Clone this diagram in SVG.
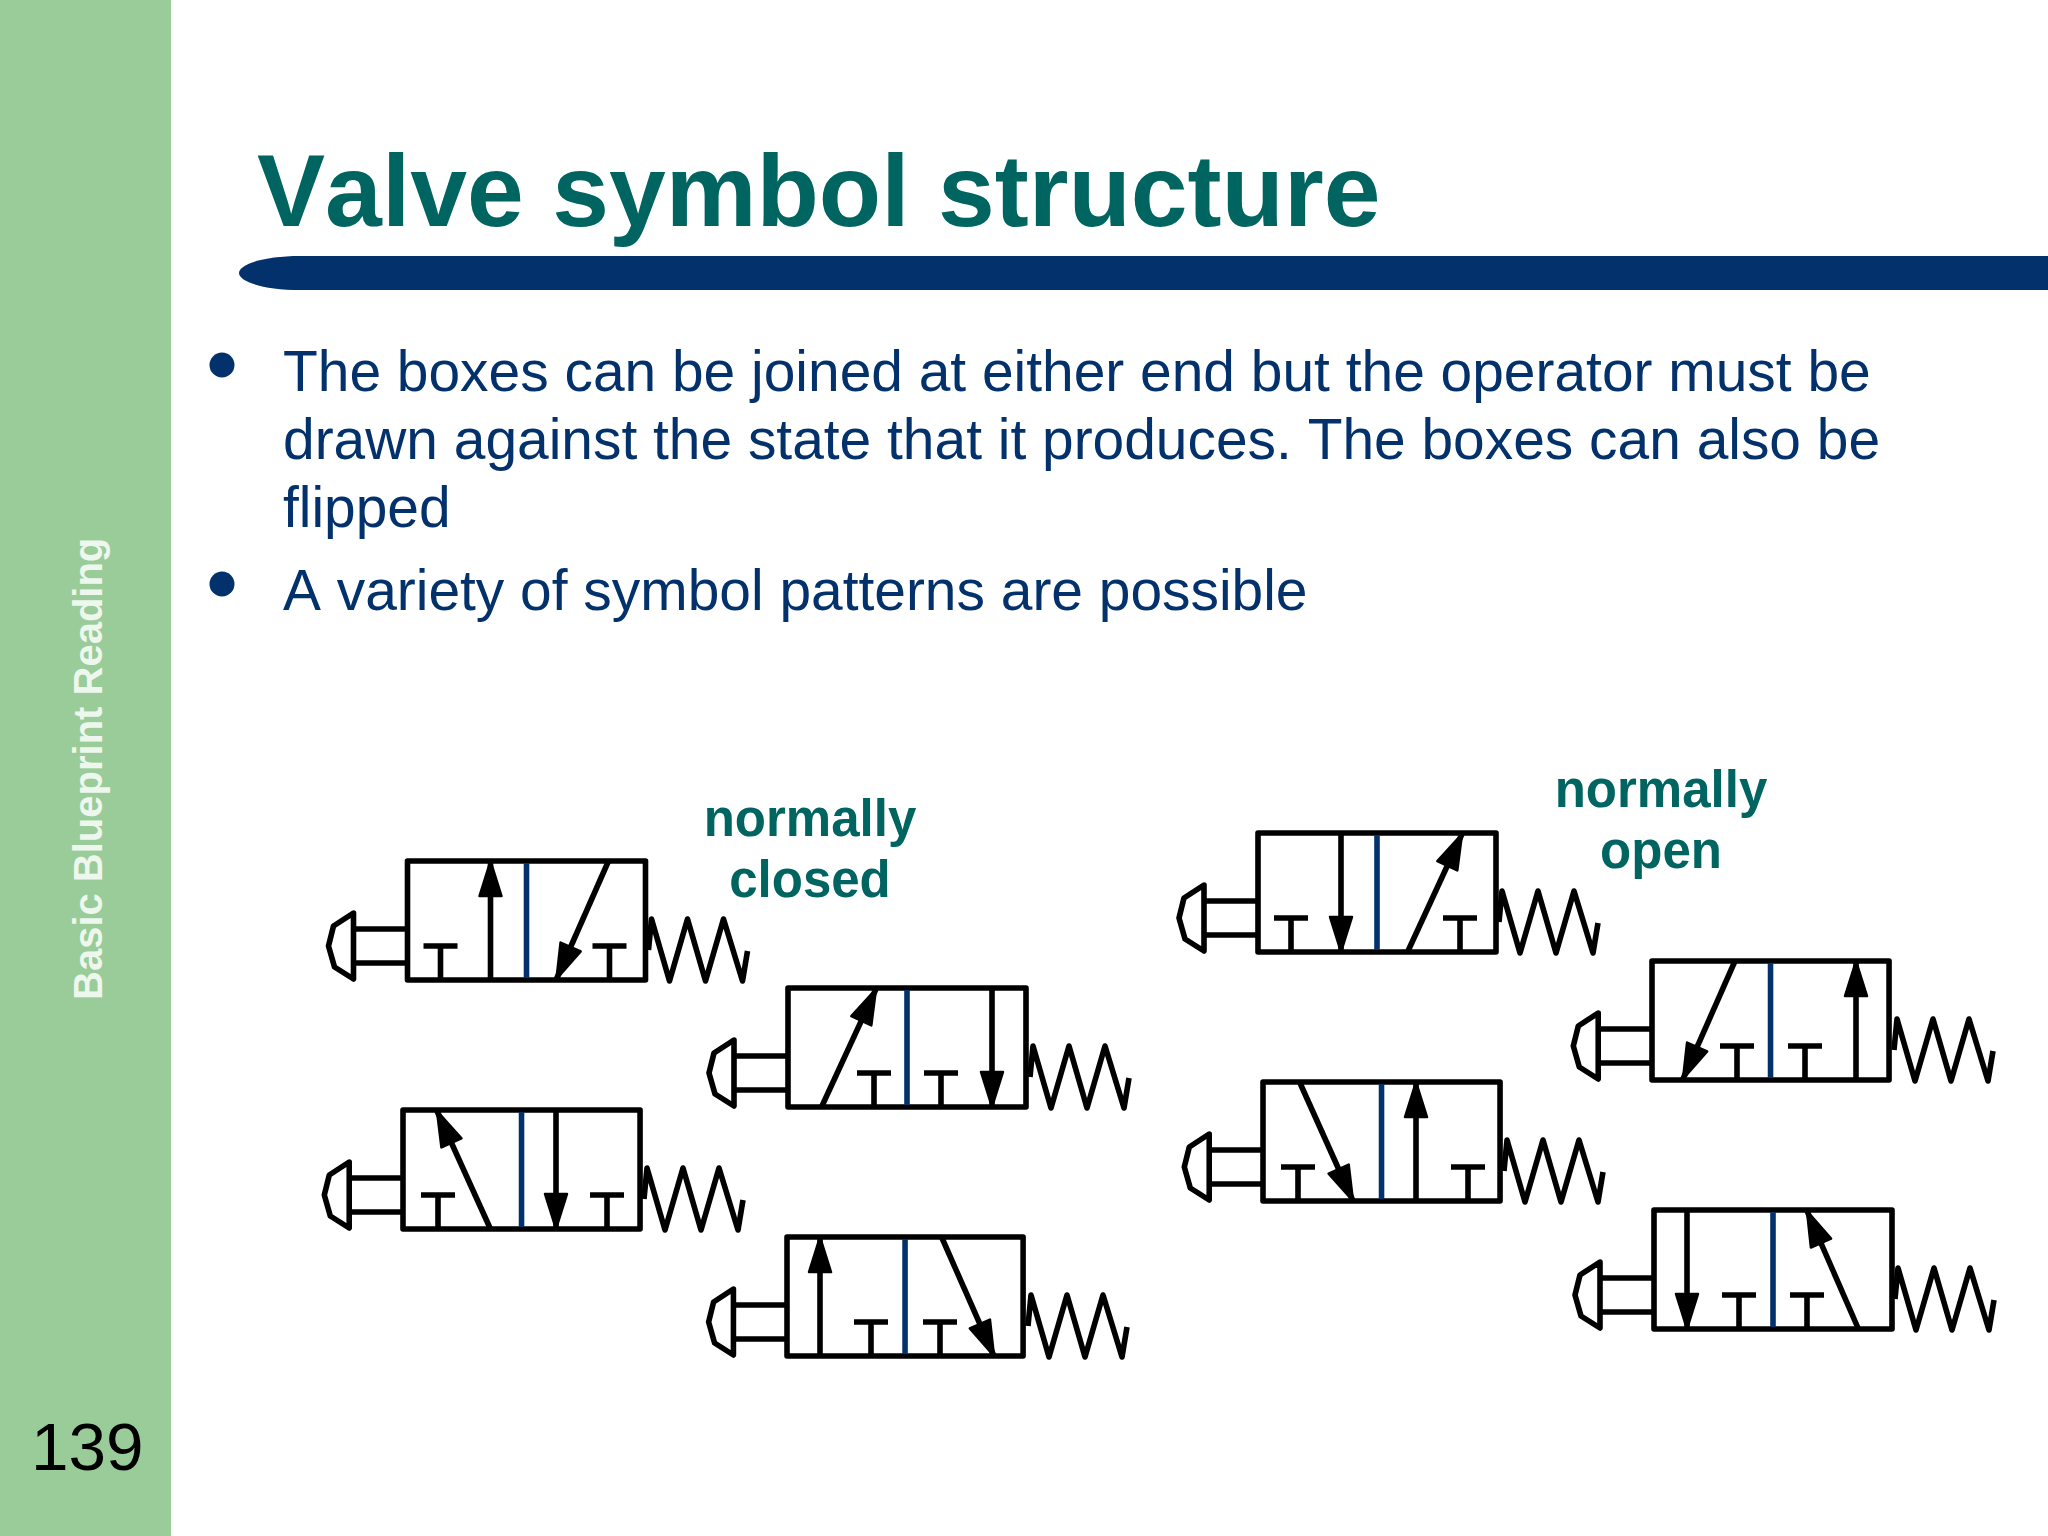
<svg xmlns="http://www.w3.org/2000/svg" width="2048" height="1536" viewBox="0 0 2048 1536">
<style>
text{font-family:"Liberation Sans",Arial,sans-serif;font-kerning:none}
.title{font-size:102.1px;font-weight:700;fill:#006461}
.body{font-size:56.9px;fill:#03316b}
.lab{font-size:51px;font-weight:700;fill:#006461;text-anchor:middle}
.l{stroke:#000;stroke-width:5.6;fill:none;stroke-linecap:butt}
.box{stroke:#000;stroke-width:5.6;fill:#fff;stroke-linejoin:round}
.mid{stroke:#03316b;stroke-width:5.6}
.btn{stroke:#000;stroke-width:5.6;fill:#fff;stroke-linejoin:round}
.spr{stroke:#000;stroke-width:5.6;fill:none;stroke-linejoin:round;stroke-linecap:butt}
</style>
<defs>
<marker id="ah" markerUnits="userSpaceOnUse" markerWidth="42" markerHeight="28" refX="37" refY="13" orient="auto"><path d="M2 2L37 13L2 24Z" fill="#000" stroke="#000" stroke-width="2.5" stroke-linejoin="round"/></marker>
<g id="spring"><polyline class="spr" points="241,89 244,58 262,120 280,58 298,120 316,58 335,120 340,90"/></g>
<g id="frame">
<path class="l" d="M-54 68H0M-54 102H0"/>
<polygon class="btn" points="-54,52 -74,65 -79,85 -73,106 -54,118"/>
<rect class="box" width="238" height="119"/>
<line class="mid" x1="119" y1="2" x2="119" y2="117"/>
</g>
<path id="t" class="l" d="M-17 85H17M0 85V119"/>
</defs>
<rect width="2048" height="1536" fill="#fff"/>
<rect width="171" height="1536" fill="#99cc99"/>
<text id="side" transform="translate(102 1000) rotate(-90)" font-size="40" font-weight="700" fill="#eef7ee">Basic Blueprint Reading</text>
<text id="page" x="31" y="1470" font-size="67.5" fill="#000">139</text>
<text id="title" class="title" x="257" y="226">Valve symbol structure</text>
<path id="bar" d="M2048 256H300C265 256 239 264 239 273C239 282 265 290 300 290H2048Z" fill="#03316b"/>
<g id="bullets" fill="#03316b"><circle cx="222" cy="365" r="12.5"/><circle cx="222" cy="584" r="12.5"/></g>
<g id="text-body">
<text class="body" x="283" y="390.5">The boxes can be joined at either end but the operator must be</text>
<text class="body" x="283" y="459">drawn against the state that it produces. The boxes can also be</text>
<text class="body" x="283" y="527">flipped</text>
<text class="body" x="283" y="609.5">A variety of symbol patterns are possible</text>
</g>
<g id="label-closed"><text class="lab" x="810" y="836">normally</text><text class="lab" x="810" y="897">closed</text></g>
<g id="label-open"><text class="lab" x="1661" y="807">normally</text><text class="lab" x="1661" y="868">open</text></g>
<g id="valve-1" transform="translate(407.5 861)"><use href="#spring"/><use href="#frame"/><use href="#t" x="33"/><use href="#t" x="202"/><line class="l" x1="83" y1="119" x2="83" y2="0" marker-end="url(#ah)"/><line class="l" x1="201" y1="0" x2="149" y2="118" marker-end="url(#ah)"/></g>
<g id="valve-2" transform="translate(788 988)"><use href="#spring" x="1"/><use href="#frame"/><use href="#t" x="86"/><use href="#t" x="153"/><line class="l" x1="34" y1="118" x2="88" y2="1" marker-end="url(#ah)"/><line class="l" x1="204" y1="0" x2="204" y2="119" marker-end="url(#ah)"/></g>
<g id="valve-3" transform="translate(403 1110)"><use href="#spring"/><use href="#frame" transform="scale(.996 1)"/><use href="#t" x="35"/><use href="#t" x="204"/><line class="l" x1="87" y1="118" x2="34" y2="1" marker-end="url(#ah)"/><line class="l" x1="153" y1="0" x2="153" y2="119" marker-end="url(#ah)"/></g>
<g id="valve-4" transform="translate(787 1237)"><use href="#spring"/><use href="#frame" transform="scale(.992 1)"/><use href="#t" x="84"/><use href="#t" x="153"/><line class="l" x1="33" y1="119" x2="33" y2="0" marker-end="url(#ah)"/><line class="l" x1="155" y1="1" x2="207" y2="119" marker-end="url(#ah)"/></g>
<g id="valve-5" transform="translate(1258 833)"><use href="#spring"/><use href="#frame"/><use href="#t" x="33"/><use href="#t" x="202"/><line class="l" x1="83" y1="0" x2="83" y2="119" marker-end="url(#ah)"/><line class="l" x1="150" y1="118" x2="204" y2="1" marker-end="url(#ah)"/></g>
<g id="valve-6" transform="translate(1652 961)"><use href="#spring" x="1"/><use href="#frame" transform="scale(.996 1)"/><use href="#t" x="85"/><use href="#t" x="153"/><line class="l" x1="83" y1="0" x2="31" y2="118" marker-end="url(#ah)"/><line class="l" x1="204" y1="119" x2="204" y2="0" marker-end="url(#ah)"/></g>
<g id="valve-7" transform="translate(1263 1082)"><use href="#spring"/><use href="#frame" transform="scale(.996 1)"/><use href="#t" x="35"/><use href="#t" x="205"/><line class="l" x1="37" y1="1" x2="90" y2="119" marker-end="url(#ah)"/><line class="l" x1="153" y1="119" x2="153" y2="0" marker-end="url(#ah)"/></g>
<g id="valve-8" transform="translate(1654 1210)"><use href="#spring"/><use href="#frame"/><use href="#t" x="85"/><use href="#t" x="153"/><line class="l" x1="33" y1="0" x2="33" y2="119" marker-end="url(#ah)"/><line class="l" x1="204" y1="118" x2="153" y2="1" marker-end="url(#ah)"/></g>
</svg>
